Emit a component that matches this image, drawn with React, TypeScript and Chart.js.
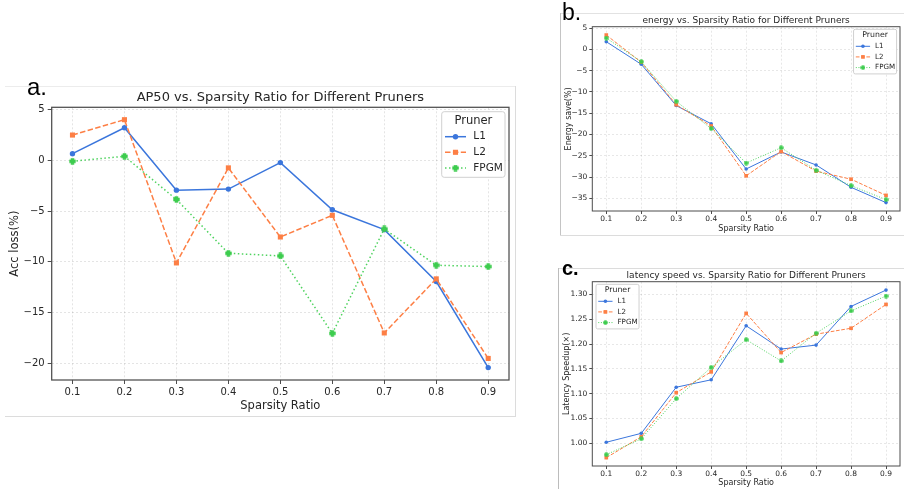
import React, { useEffect, useRef } from "react";
import { Chart, registerables } from "chart.js";
Chart.register(...registerables);

const FONT = '"DejaVu Sans", sans-serif';

// ---------- data ----------
const sparsityRatio = [0.1, 0.2, 0.3, 0.4, 0.5, 0.6, 0.7, 0.8, 0.9];
const prunerNames = ["L1", "L2", "FPGM"];

const apL1 = [0.65, 3.2, -2.94, -2.84, -0.23, -4.87, -6.83, -11.93, -20.4];
const apL2 = [2.48, 3.99, -10.1, -0.75, -7.55, -5.42, -16.99, -11.67, -19.5];
const apFPGM = [-0.1, 0.39, -3.86, -9.15, -9.41, -17.03, -6.76, -10.33, -10.46];

const energyL1 = [1.8, -3.5, -13.2, -17.48, -28.1, -24.1, -27.15, -32.4, -36.0];
const energyL2 = [3.36, -3.0, -13.0, -18.0, -29.7, -24.0, -28.6, -30.5, -34.3];
const energyFPGM = [2.66, -2.9, -12.2, -18.6, -26.7, -23.1, -28.4, -32.0, -35.3];

const latencyL1 = [1.002, 1.02, 1.113, 1.128, 1.237, 1.19, 1.198, 1.276, 1.309];
const latencyL2 = [0.971, 1.013, 1.102, 1.144, 1.262, 1.183, 1.22, 1.232, 1.28];
const latencyFPGM = [0.977, 1.009, 1.09, 1.153, 1.209, 1.166, 1.222, 1.267, 1.297];

const xTickValues = [0.1, 0.2, 0.3, 0.4, 0.5, 0.6, 0.7, 0.8, 0.9];
const apTickValues = [-20, -15, -10, -5, 0, 5];
const energyTickValues = [-35, -30, -25, -20, -15, -10, -5, 0, 5];
const latencyTickValues = [1.0, 1.05, 1.1, 1.15, 1.2, 1.25, 1.3];

const COLORS = ["#3b76dc", "#fd7f45", "#3dcc4e"];
const LINE_COLORS = ["#3b76dc", "#fd7f45", "#4fd35f"];
const MARKERS = ["circle", "rect", "plus"];

// ---------- helpers ----------
const margins = (arrs: number[][]) => {
  const all = arrs.flat();
  const lo = Math.min(...all);
  const hi = Math.max(...all);
  const d = (hi - lo) * 0.05;
  return [lo - d, hi + d];
};
const fmtInt = (v: number) => (v < 0 ? "\u2212" + Math.abs(v) : String(v));
const fmt2 = (v: number) => v.toFixed(2);

function makePlus(color: string, size: number) {
  const c = document.createElement("canvas");
  c.width = size;
  c.height = size;
  const g = c.getContext("2d")!;
  g.fillStyle = color;
  const t = size * 0.5;
  const m = size / 2;
  g.fillRect(0.3, m - t / 2, size - 0.6, t);
  g.fillRect(m - t / 2, 0.3, t, size - 0.6);
  return c;
}

type Cfg = {
  left: number; top: number; width: number; height: number;
  padTop: number; padRight: number; yWidth: number; xHeight: number;
  title: string; titleY: number; titleFont: number;
  yLabel: string; xLabel: string; axisFont: number; tickFont: number;
  yTitlePad: number; xTitlePad: number; tickLen: number; yTickPad: number; xTickPad: number;
  series: number[][]; yTicks: number[]; yFmt: (v: number) => string;
  lw: number; circR: number; rectR: number; plusSize: number;
  dashes: number[][]; gridLw: number;
  legendSide: "left" | "right"; legendDx: number; legendDy: number; legendS: number;
};

function drawMarker(ctx: CanvasRenderingContext2D, kind: string, x: number, y: number, cfg: Cfg, color: string, plus: HTMLCanvasElement) {
  ctx.fillStyle = color;
  if (kind === "circle") {
    ctx.beginPath();
    ctx.arc(x, y, cfg.circR, 0, Math.PI * 2);
    ctx.fill();
  } else if (kind === "rect") {
    const s = cfg.rectR * Math.SQRT1_2;
    ctx.fillRect(x - s, y - s, 2 * s, 2 * s);
  } else {
    ctx.drawImage(plus, x - plus.width / 2, y - plus.height / 2);
  }
}

function Panel({ cfg }: { cfg: Cfg }) {
  const ref = useRef<HTMLCanvasElement>(null);
  useEffect(() => {
    const canvas = ref.current!;
    const plus = makePlus(COLORS[2], cfg.plusSize);
    const [xmin, xmax] = margins([sparsityRatio]);
    const [ymin, ymax] = margins(cfg.series);
    const datasets = cfg.series.map((vals, i) => ({
      label: prunerNames[i],
      data: sparsityRatio.map((x, j) => ({ x, y: vals[j] })),
      borderColor: LINE_COLORS[i],
      backgroundColor: COLORS[i],
      borderWidth: cfg.lw,
      borderDash: cfg.dashes[i],
      pointStyle: MARKERS[i] === "plus" ? plus : MARKERS[i],
      pointRadius: MARKERS[i] === "circle" ? cfg.circR : cfg.rectR,
      pointBorderWidth: 0,
      pointBackgroundColor: COLORS[i],
      tension: 0,
      order: 2 - i,
      clip: false as any,
    }));

    const decor = {
      id: "decor",
      afterDatasetsDraw(chart: any) {
        const { ctx, chartArea: ca } = chart;
        ctx.save();
        ctx.strokeStyle = "#4d4d4d";
        ctx.lineWidth = cfg.lw > 1.2 ? 1.25 : 1;
        ctx.setLineDash([]);
        ctx.strokeRect(ca.left, ca.top, ca.right - ca.left, ca.bottom - ca.top);
        ctx.restore();
      },
      afterDraw(chart: any) {
        const { ctx, chartArea: ca } = chart;
        ctx.save();
        // title
        ctx.fillStyle = "#262626";
        ctx.font = `${cfg.titleFont}px ${FONT}`;
        ctx.textAlign = "center";
        ctx.textBaseline = "middle";
        ctx.fillText(cfg.title, (ca.left + ca.right) / 2, cfg.titleY);
        // legend
        const s = cfg.legendS;
        const w = 63.3 * s, h = 65.6 * s;
        const lx = cfg.legendSide === "right" ? ca.right - cfg.legendDx - w : ca.left + cfg.legendDx;
        const ly = ca.top + cfg.legendDy;
        ctx.beginPath();
        const r = 2.5 * s;
        ctx.moveTo(lx + r, ly);
        ctx.arcTo(lx + w, ly, lx + w, ly + h, r);
        ctx.arcTo(lx + w, ly + h, lx, ly + h, r);
        ctx.arcTo(lx, ly + h, lx, ly, r);
        ctx.arcTo(lx, ly, lx + w, ly, r);
        ctx.closePath();
        ctx.fillStyle = "rgba(255,255,255,0.85)";
        ctx.fill();
        ctx.strokeStyle = "#d0d0d0";
        ctx.lineWidth = 1;
        ctx.stroke();
        ctx.fillStyle = "#262626";
        ctx.font = `${11.5 * s}px ${FONT}`;
        ctx.fillText("Pruner", lx + w / 2, ly + 9 * s);
        const rows = [25, 40.6, 56.3];
        prunerNames.forEach((name, i) => {
          const yy = ly + rows[i] * s;
          ctx.strokeStyle = LINE_COLORS[i];
          ctx.lineWidth = cfg.lw;
          ctx.setLineDash(cfg.dashes[i]);
          ctx.beginPath();
          ctx.moveTo(lx + 3.3 * s, yy);
          ctx.lineTo(lx + 24.3 * s, yy);
          ctx.stroke();
          ctx.setLineDash([]);
          drawMarker(ctx, MARKERS[i], lx + 13.8 * s, yy, cfg, COLORS[i], plus);
          ctx.fillStyle = "#262626";
          ctx.font = `${10.5 * s}px ${FONT}`;
          ctx.textAlign = "left";
          ctx.fillText(name, lx + 31.6 * s, yy);
          ctx.textAlign = "center";
        });
        ctx.restore();
      },
    };

    const gridCommon = {
      color: "rgba(0,0,0,0.12)",
      lineWidth: cfg.gridLw,
      tickColor: "#4d4d4d",
      tickLength: cfg.tickLen,
      tickWidth: 1,
      tickBorderDash: [],
      drawTicks: true,
    };

    const chart = new Chart(canvas, {
      type: "line",
      data: { datasets: datasets as any },
      plugins: [decor],
      options: {
        animation: false,
        responsive: false,
        devicePixelRatio: 1,
        events: [],
        layout: { padding: { left: 0, top: cfg.padTop, right: cfg.padRight, bottom: 0 } },
        plugins: { legend: { display: false }, tooltip: { enabled: false }, title: { display: false } },
        scales: {
          x: {
            type: "linear",
            min: xmin,
            max: xmax,
            afterFit: (sc: any) => { sc.height = cfg.xHeight; },
            afterBuildTicks: (sc: any) => { sc.ticks = xTickValues.map((v) => ({ value: v })); },
            ticks: {
              callback: (v: any) => Number(v).toFixed(1),
              font: { family: FONT, size: cfg.tickFont },
              color: "#262626",
              padding: cfg.xTickPad,
              maxRotation: 0,
              autoSkip: false,
            },
            grid: gridCommon as any,
            border: { display: false, dash: [2, 2] },
            title: {
              display: true,
              text: cfg.xLabel,
              font: { family: FONT, size: cfg.axisFont },
              color: "#262626",
              padding: { top: 0, bottom: cfg.xTitlePad },
            },
          },
          y: {
            type: "linear",
            min: ymin,
            max: ymax,
            afterFit: (sc: any) => { sc.width = cfg.yWidth; },
            afterBuildTicks: (sc: any) => { sc.ticks = cfg.yTicks.map((v) => ({ value: v })); },
            ticks: {
              callback: (v: any) => cfg.yFmt(Number(v)),
              font: { family: FONT, size: cfg.tickFont },
              color: "#262626",
              padding: cfg.yTickPad,
              autoSkip: false,
            },
            grid: gridCommon as any,
            border: { display: false, dash: [2, 2] },
            title: {
              display: true,
              text: cfg.yLabel,
              font: { family: FONT, size: cfg.axisFont },
              color: "#262626",
              padding: { top: cfg.yTitlePad, bottom: 0 },
            },
          },
        },
      } as any,
    });
    return () => chart.destroy();
  }, [cfg]);
  return (
    <canvas
      ref={ref}
      width={cfg.width}
      height={cfg.height}
      style={{ position: "absolute", left: cfg.left, top: cfg.top, width: cfg.width, height: cfg.height }}
    />
  );
}

const small = {
  titleFont: 9, axisFont: 8, tickFont: 7.5, tickLen: 3, yTickPad: 2, xTickPad: 0.5,
  lw: 1, circR: 1.8, rectR: 2.6, plusSize: 5, gridLw: 0.8,
  dashes: [[], [3.7, 1.6], [1, 1.65]], legendS: 0.68, legendDy: 2.6,
};

const cfgA: Cfg = {
  left: 5, top: 87, width: 508, height: 329,
  padTop: 20.3, padRight: 4, yWidth: 46.7, xHeight: 36,
  title: "AP50 vs. Sparsity Ratio for Different Pruners", titleY: 10.7, titleFont: 13,
  yLabel: "Acc loss(%)", xLabel: "Sparsity Ratio", axisFont: 11.5, tickFont: 10,
  yTitlePad: 3.1, xTitlePad: 3.4, tickLen: 4, yTickPad: 3, xTickPad: 2,
  series: [apL1, apL2, apFPGM], yTicks: apTickValues, yFmt: fmtInt,
  lw: 1.5, circR: 2.7, rectR: 3.6, plusSize: 7, gridLw: 0.9,
  dashes: [[], [5.5, 2.4], [1.5, 2.5]],
  legendSide: "right", legendDx: 4, legendDy: 4.4, legendS: 1,
};

const cfgB: Cfg = {
  ...small,
  left: 561, top: 14, width: 343, height: 222,
  padTop: 12.7, padRight: 2.3, yWidth: 31.3, xHeight: 25,
  title: "energy vs. Sparsity Ratio for Different Pruners", titleY: 6.5,
  yLabel: "Energy save(%)", xLabel: "Sparsity Ratio",
  yTitlePad: 2.7, xTitlePad: 2.7,
  series: [energyL1, energyL2, energyFPGM], yTicks: energyTickValues, yFmt: fmtInt,
  legendSide: "right", legendDx: 3.4,
} as Cfg;

const cfgC: Cfg = {
  ...small,
  left: 559, top: 269, width: 345, height: 220,
  padTop: 12.7, padRight: 2.3, yWidth: 33.3, xHeight: 23,
  title: "latency speed vs. Sparsity Ratio for Different Pruners", titleY: 6.3,
  yLabel: "Latency Speedup(\u00d7)", xLabel: "Sparsity Ratio",
  yTitlePad: 2.7, xTitlePad: 0.9,
  series: [latencyL1, latencyL2, latencyFPGM], yTicks: latencyTickValues, yFmt: fmt2,
  legendSide: "left", legendDx: 3.7,
} as Cfg;

const line = (l: number, t: number, w: number, h: number, c: string) => (
  <div style={{ position: "absolute", left: l, top: t, width: w, height: h, background: c }} />
);

const labelStyle = (l: number, t: number, size: number, bold = false): React.CSSProperties => ({
  position: "absolute", left: l, top: t, fontSize: size, lineHeight: 1,
  fontFamily: '"Liberation Sans", Arial, sans-serif', fontWeight: bold ? 700 : 400, color: "#000",
  whiteSpace: "nowrap",
});

export default function App() {
  return (
    <div style={{ position: "fixed", left: 0, top: 0, width: 904, height: 489, background: "#fff", overflow: "hidden" }}>
      {line(5, 86, 510, 1, "#ececec")}
      {line(515, 86, 1, 331, "#dcdcdc")}
      {line(5, 416, 511, 1, "#dcdcdc")}
      {line(560, 13, 344, 1, "#e2e2e2")}
      {line(560, 13, 1, 223, "#c4c4c4")}
      {line(560, 235, 344, 1, "#dcdcdc")}
      {line(558, 268, 346, 1, "#dcdcdc")}
      {line(558, 268, 1, 221, "#bcbcbc")}
      <Panel cfg={cfgA} />
      <Panel cfg={cfgB} />
      <Panel cfg={cfgC} />
      <div style={labelStyle(27, 74.7, 24)}>a.</div>
      <div style={labelStyle(562, 1.4, 23)}>b.</div>
      <div style={labelStyle(562, 258, 20, true)}>c.</div>
    </div>
  );
}
